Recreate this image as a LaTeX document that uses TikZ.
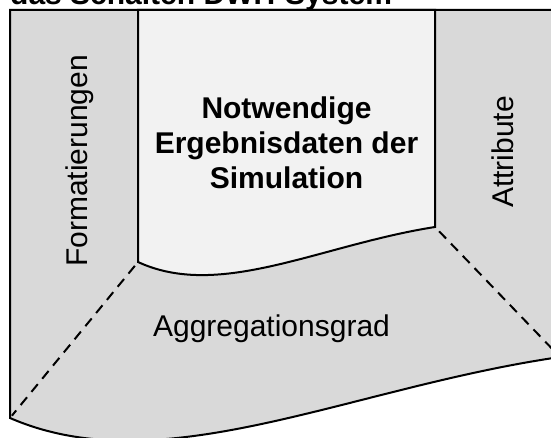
\documentclass[tikz,border=0pt]{standalone}
\usepackage{fontspec}
\setmainfont{Liberation Sans}
\begin{document}
\begin{tikzpicture}[x=1pt,y=-1pt,
  edge/.style={draw=black,line width=2pt},
  sidepanel/.style={edge,fill=panelgray},
  corepanel/.style={edge,fill=coregray},
  guide/.style={line width=2pt,dash pattern=on 10pt off 7pt},
  lbl/.style={inner sep=0pt,font=\fontsize{30}{35}\selectfont},
  boldlbl/.style={lbl,font=\fontsize{30}{35}\selectfont\bfseries}]
\definecolor{panelgray}{HTML}{D9D9D9}
\definecolor{coregray}{HTML}{F2F2F2}
\useasboundingbox (0,0) rectangle (551,438);
\clip (0,0) rectangle (551,438);
\fill[white] (0,0) rectangle (551,438);

% corner points of the frame and of the core panel
\coordinate (tl) at (10,10);
\coordinate (tr) at (560,10);
\coordinate (br) at (560,357);
\coordinate (bl) at (10,418);
\coordinate (ctl) at (138,10);
\coordinate (cbl) at (138,262);
\coordinate (cbr) at (435,227);
\coordinate (ctr) at (435,10);

% heading, cut by the page edge
\node[boldlbl,anchor=base west] (head) at (10,4.5) {das Schalten DWH-System};

% outer frame
\path[sidepanel] (tl) -- (tr) -- (br)
  .. controls (347,388) and (162,484) .. (bl) -- cycle;

% core panel
\path[corepanel] (ctl) -- (cbl)
  .. controls (220,300) and (320,245) .. (cbr) -- (ctr) -- cycle;

% dashed guides from the core panel to the frame corners
\draw[guide,shorten <=5pt,shorten >=3pt] (cbl) -- (bl);
\draw[guide,shorten <=6pt,shorten >=12pt] (cbr) -- (br);

% labels
\node[boldlbl,align=center,anchor=center] (core) at (286.5,143)
  {Notwendige\\Ergebnisdaten der\\Simulation};
\node[lbl,rotate=90,anchor=base] (fmt) at (87,161) {Formatierungen};
\node[lbl,rotate=90,anchor=base] (attr) at (513,152) {Attribute};
\node[lbl,anchor=base] (aggr) at (271.5,336) {Aggregationsgrad};
\end{tikzpicture}
\end{document}
